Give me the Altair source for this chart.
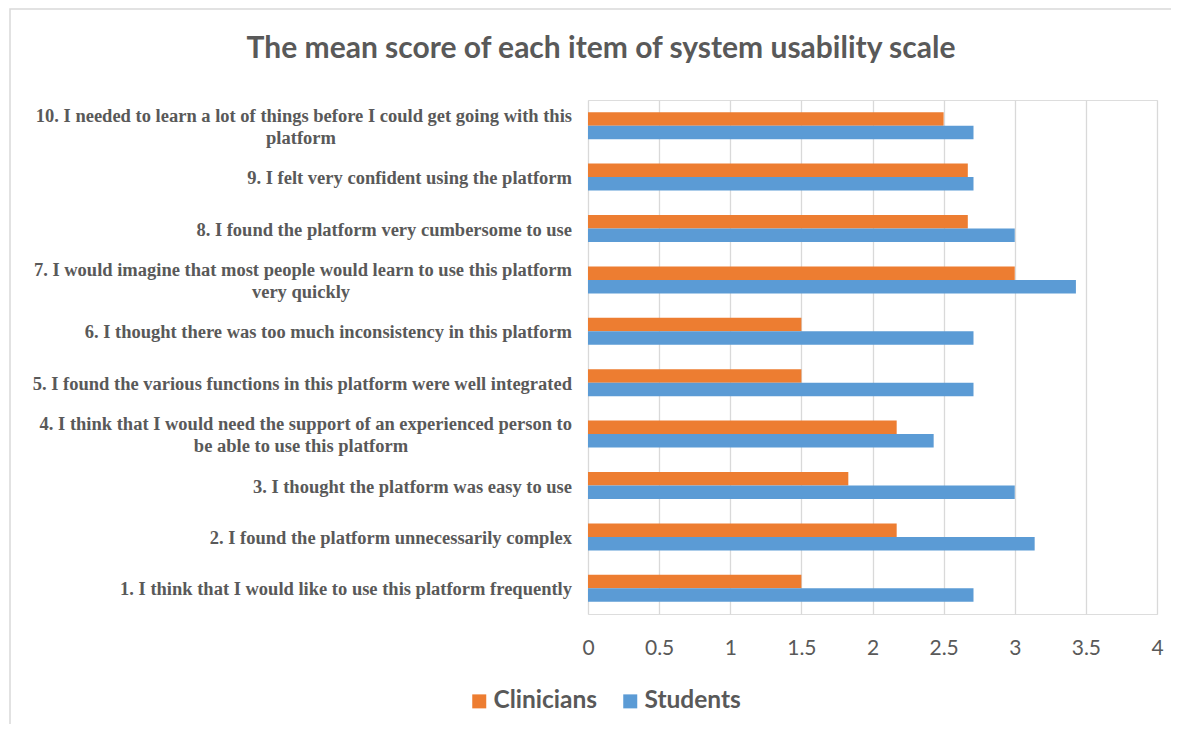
import altair as alt
import pandas as pd

items = ["1", "2", "3", "4", "5", "6", "7", "8", "9", "10"]
line1 = [
    "1. I think that I would like to use this platform frequently",
    "2. I found the platform unnecessarily complex",
    "3. I thought the platform was easy to use",
    "4. I think that I would need the support of an experienced person to",
    "5. I found the various functions in this platform were well integrated",
    "6. I thought there was too much inconsistency in this platform",
    "7. I would imagine that most people would learn to use this platform",
    "8. I found the platform very cumbersome to use",
    "9. I felt very confident using the platform",
    "10. I needed to learn a lot of things before I could get going with this",
]
line2 = ["", "", "", "be able to use this platform", "", "", "very quickly", "", "", "platform"]
clinicians = [1.5, 2.17, 1.83, 2.17, 1.5, 1.5, 3.0, 2.67, 2.67, 2.5]
students = [2.71, 3.14, 3.0, 2.43, 2.71, 2.71, 3.43, 3.0, 2.71, 2.71]
groups = ["Clinicians", "Students"]
colors = ["#ED7D31", "#5B9BD5"]
ticks = [0, 0.5, 1, 1.5, 2, 2.5, 3, 3.5, 4]
title_text = "The mean score of each item of system usability scale"

rows = []
for i, it in enumerate(items):
    rows.append({"item": it, "group": "Clinicians", "value": clinicians[i]})
    rows.append({"item": it, "group": "Students", "value": students[i]})
bars_df = pd.DataFrame(rows)

lab_df = pd.DataFrame({"item": items, "l1": line1, "l2": line2})
lab_df["two"] = lab_df["l2"] != ""

order = list(reversed(items))
yenc = alt.Y("item:N", sort=order, axis=None,
             scale=alt.Scale(paddingInner=0.475, paddingOuter=0.2375))

bars = alt.Chart(bars_df).mark_bar().encode(
    x=alt.X("value:Q", scale=alt.Scale(domain=[0, 4], nice=False),
            axis=alt.Axis(values=ticks, format="~g", title=None, domain=False, ticks=False,
                          grid=True, gridColor="#d9d9d9", gridWidth=1.3,
                          labelFont="Lato", labelFontSize=21, labelColor="#595959",
                          labelPadding=23, labelFlush=False)),
    y=yenc,
    yOffset=alt.YOffset("group:N", sort=groups),
    color=alt.Color("group:N", scale=alt.Scale(domain=groups, range=colors),
                    legend=alt.Legend(title=None, orient="none", direction="horizontal",
                                      legendX=-121, legendY=589,
                                      symbolType="square", symbolSize=196,
                                      symbolStrokeWidth=0, labelOffset=2,
                                      labelFont="Lato", labelFontSize=24.5,
                                      labelFontWeight="bold", labelColor="#595959",
                                      columnPadding=20, symbolOffset=0)),
)

txt_style = dict(font="Liberation Serif", fontSize=18.5, fontWeight="bold",
                 color="#595959", baseline="middle")

t_single = alt.Chart(lab_df).transform_filter("!datum.two").mark_text(
    align="right", dy=1, **txt_style).encode(x=alt.value(-16), y=yenc, text="l1:N")
t_first = alt.Chart(lab_df).transform_filter("datum.two").mark_text(
    align="right", dy=-10, **txt_style).encode(x=alt.value(-16), y=yenc, text="l1:N")
t_second = alt.Chart(lab_df).transform_filter("datum.two").mark_text(
    align="center", dy=12, **txt_style).encode(x=alt.value(-287), y=yenc, text="l2:N")

one = alt.Data(values=[{"t": title_text}])
title = alt.Chart(one).mark_text(
    font="Lato", fontSize=30, fontWeight="bold", color="#595959",
    align="center", baseline="middle").encode(
    x=alt.value(13), y=alt.value(-51), text="t:N")

frame = alt.Chart(alt.Data(values=[{"a": 1}])).mark_rect(
    fill="transparent", stroke="#d9d9d9", strokeWidth=1.5).encode(
    x=alt.value(-578), x2=alt.value(640), y=alt.value(-91), y2=alt.value(660))

chart = alt.layer(frame, bars, t_single, t_first, t_second, title).properties(
    width=569, height=514,
    padding={"left": 580, "top": 92, "right": 14, "bottom": 110},
    autosize=alt.AutoSizeParams(type="none"),
).configure_view(stroke=None).configure(background="white")

chart.save("out.html", embed_options={"renderer": "svg", "actions": False})
